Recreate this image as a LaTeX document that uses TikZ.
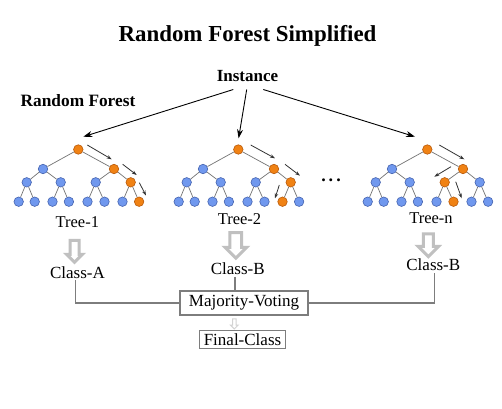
\documentclass[tikz,border=0pt]{standalone}
\usepackage{fontspec}
\setmainfont{Liberation Serif}
\usetikzlibrary{arrows.meta,shapes.arrows,calc}
\definecolor{bluefill}{RGB}{112,152,238}
\definecolor{bluedk}{RGB}{70,100,175}
\definecolor{orgfill}{RGB}{240,130,20}
\definecolor{orgdk}{RGB}{185,90,10}
\definecolor{hollowgray}{RGB}{192,192,192}
\definecolor{linegray}{RGB}{125,125,125}
\tikzset{
  tn/.style={circle, draw=bluedk, fill=bluefill, line width=0.6pt, minimum size=9.5pt, inner sep=0pt},
  on/.style={draw=orgdk, fill=orgfill},
  te/.style={draw=black!55, line width=0.7pt},
  pathar/.style={draw=black!80, line width=0.8pt, -{Stealth[length=5pt,width=3.5pt]}},
  instar/.style={draw=black, line width=0.9pt, -{Stealth[length=9pt,width=6pt]}},
  lbl/.style={font=\fontsize{16.5}{19}\selectfont, inner sep=0pt},
  cls/.style={font=\fontsize{17}{20}\selectfont, inner sep=0pt},
  hollow/.style={single arrow, draw=hollowgray, fill=white, line width=3pt, rotate=-90,
    single arrow head extend=#1, minimum width=0pt},
  box/.style={draw=linegray, line width=1.1pt, font=\fontsize{17}{20}\selectfont, inner ysep=0pt},
  conn/.style={draw=linegray, line width=1.4pt},
  t1-1/.style=on, t1-3/.style=on, t1-7/.style=on, t1-15/.style=on,
  t2-1/.style=on, t2-3/.style=on, t2-7/.style=on, t2-14/.style=on,
  t3-1/.style=on, t3-3/.style=on, t3-6/.style=on, t3-13/.style=on,
}
\newcommand\rftree[2]{%
  \node[tn,#1-1/.try] (#1-1) at (#2,149.5) {};
  \node[tn,#1-2/.try] (#1-2) at (#2-35.3,169) {};
  \node[tn,#1-3/.try] (#1-3) at (#2+35.7,169) {};
  \node[tn,#1-4/.try] (#1-4) at (#2-51.6,182.3) {};
  \node[tn,#1-5/.try] (#1-5) at (#2-17.6,182.3) {};
  \node[tn,#1-6/.try] (#1-6) at (#2+17.4,182.3) {};
  \node[tn,#1-7/.try] (#1-7) at (#2+52.4,182.3) {};
  \node[tn,#1-8/.try] (#1-8) at (#2-59.6,201.7) {};
  \node[tn,#1-9/.try] (#1-9) at (#2-43.6,201.7) {};
  \node[tn,#1-10/.try] (#1-10) at (#2-25.8,201.7) {};
  \node[tn,#1-11/.try] (#1-11) at (#2-9.4,201.7) {};
  \node[tn,#1-12/.try] (#1-12) at (#2+9.2,201.7) {};
  \node[tn,#1-13/.try] (#1-13) at (#2+26.2,201.7) {};
  \node[tn,#1-14/.try] (#1-14) at (#2+44.2,201.7) {};
  \node[tn,#1-15/.try] (#1-15) at (#2+60.8,201.7) {};
  \foreach \p/\c in {1/2,1/3,2/4,2/5,3/6,3/7,4/8,4/9,5/10,5/11,6/12,6/13,7/14,7/15}
    \draw[te] (#1-\p) -- (#1-\c);
}
\begin{document}
\begin{tikzpicture}[x=1pt,y=-1pt]
\useasboundingbox (0,0) rectangle (502,408);
\fill[white] (0,0) rectangle (502,408);

% titles
\node[font=\fontsize{22.9}{26}\selectfont\bfseries, inner sep=0pt] (title) at (247.5,36) {Random Forest Simplified};
\node[font=\fontsize{17}{20}\selectfont\bfseries, inner sep=0pt] (inst) at (247.5,76.5) {Instance};
\node[font=\fontsize{17.3}{20}\selectfont\bfseries, inner sep=0pt] (rf) at (78,100.5) {Random Forest};

% trees
\rftree{t1}{78.3}
\rftree{t2}{238.3}
\rftree{t3}{427.3}

% instance arrows
\coordinate (s1) at (233.3,89.5);
\coordinate (s2) at (246.7,89.5);
\coordinate (s3) at (263.3,89.5);
\coordinate (e1) at (83.3,136.7);
\coordinate (e2) at (238.6,138.3);
\coordinate (e3) at (415,136.7);
\draw[instar] (s1) -- (e1);
\draw[instar] (s2) -- (e2);
\draw[instar] (s3) -- (e3);

% decision path arrows
\coordinate (a11) at (87.3,145);   \coordinate (b11) at (111.7,159.3);
\coordinate (a12) at (122.7,164.3); \coordinate (b12) at (136.7,175);
\coordinate (a13) at (139.3,182.7); \coordinate (b13) at (146,195.5);
\coordinate (a21) at (250.7,145);  \coordinate (b21) at (275,158.3);
\coordinate (a22) at (285,164.3);  \coordinate (b22) at (300,175.7);
\coordinate (a23) at (279.3,185);  \coordinate (b23) at (275,198.3);
\coordinate (a31) at (439.3,145);  \coordinate (b31) at (464.3,159.3);
\coordinate (a32) at (451,166.7);  \coordinate (b32) at (434.3,176.7);
\coordinate (a33) at (455.7,181.7); \coordinate (b33) at (461.7,198.3);
\foreach \i in {11,12,13,21,22,23,31,32,33}
  \draw[pathar] (a\i) -- (b\i);

% dots
\node[font=\fontsize{18}{20}\selectfont\bfseries, anchor=base, inner sep=0pt] (dots) at (331,181) {.\,.\,.};

% tree labels
\node[lbl] (tl1) at (77.3,222) {Tree-1};
\node[lbl] (tl2) at (239.5,219) {Tree-2};
\node[lbl] (tl3) at (431,218) {Tree-n};

% hollow arrows
\node[hollow=3.4pt, inner sep=3pt, minimum height=22pt] (h1) at (74.5,249) {};
\node[hollow=5pt, inner sep=4.35pt, minimum height=25.4pt] (h2) at (235.8,242.5) {};
\node[hollow=5.3pt, inner sep=3.5pt, minimum height=22.7pt] (h3) at (428.3,242.8) {};

% classes
\node[cls] (cA) at (77.5,272.3) {Class-A};
\node[cls] (cB) at (237.8,268.3) {Class-B};
\node[cls] (cN) at (433.3,265) {Class-B};

% majority voting
\node[box, minimum width=128pt, minimum height=24pt] (mv) at (244,303) {Majority-Voting};
\node[box, minimum width=86.4pt, minimum height=18.3pt, inner xsep=2pt] (fc) at (242.5,339.2) {Final-Class};

\draw[conn] ([xshift=-1.8pt,yshift=-1.5pt]cA.south) |- (mv.west);
\draw[conn] (235,276.7) -- (235,290.7);
\draw[conn] ([xshift=1pt,yshift=-2pt]cN.south) |- (mv.east);

\node[single arrow, draw=hollowgray!70, fill=white, line width=1pt, rotate=-90,
  single arrow head extend=2pt, inner sep=1.3pt, minimum width=0pt, minimum height=10pt] (h4) at (234.3,323) {};
\end{tikzpicture}
\end{document}
